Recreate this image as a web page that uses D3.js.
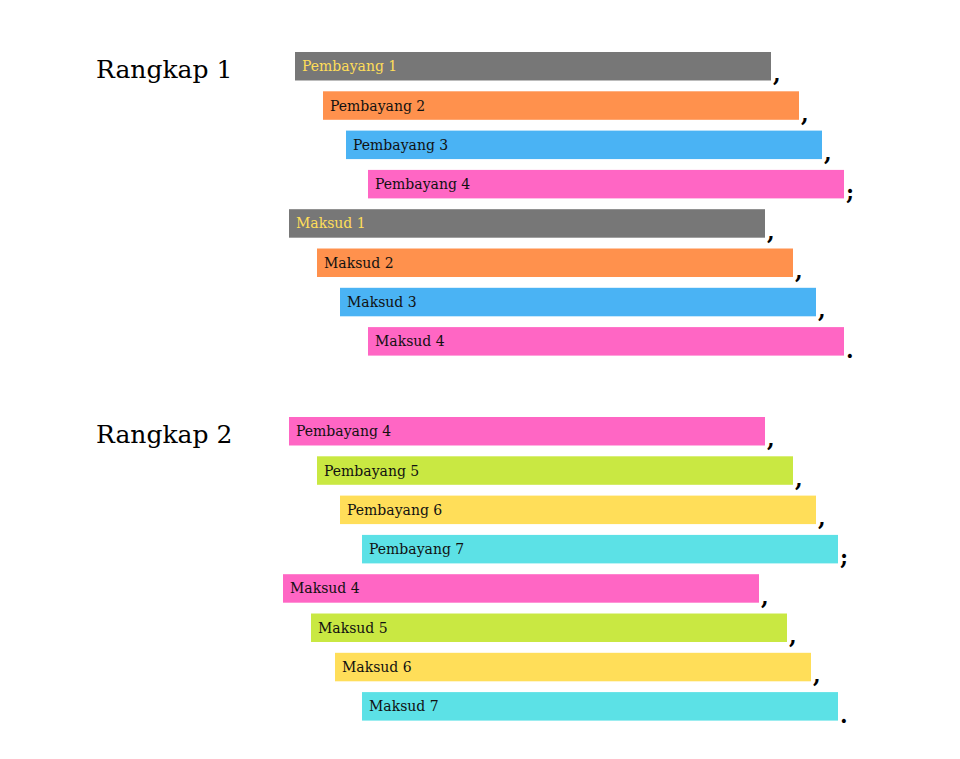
<!DOCTYPE html>
<html><head><meta charset="utf-8">
<script src="https://cdn.jsdelivr.net/npm/d3@7"></script>
<style>body{margin:0;background:#fff}</style>
</head><body><svg id="chart" width="960" height="759"></svg>
<script>
// stanza structure of a pantun
const stanzas = ['Rangkap 1', 'Rangkap 2']
const labels1 = ['Pembayang 1','Pembayang 2','Pembayang 3','Pembayang 4','Maksud 1','Maksud 2','Maksud 3','Maksud 4']
const labels2 = ['Pembayang 4','Pembayang 5','Pembayang 6','Pembayang 7','Maksud 4','Maksud 5','Maksud 6','Maksud 7']
const starts1 = [12, 40, 63, 85, 6, 34, 57, 85]
const starts2 = [6, 34, 57, 79, 0, 28, 52, 79]
const colors1 = ['#777777','#ff914d','#4ab3f4','#ff66c4','#777777','#ff914d','#4ab3f4','#ff66c4']
const colors2 = ['#ff66c4','#c9e842','#ffde59','#5ce1e6','#ff66c4','#c9e842','#ffde59','#5ce1e6']
const punct = [',', ',', ',', ';', ',', ',', ',', '.']

let svg = d3.select('#chart')
let x = d3.scaleLinear().domain([0, 600]).range([283, 883])
let barLen = 476

let drawStanza = (title, labels, starts, colors, top) => {
    let y = d3.scaleBand().domain(d3.range(8)).range([top, top + 7 * 39.3 + 28.5]).paddingInner(0.275)
    let g = svg.append('g')
    g.append('text').attr('x', 96).attr('y', top + 26)
        .style('font-family', 'DejaVu Serif, serif').style('font-size', '25px')
        .text(title)
    let rows = g.selectAll('g.row').data(labels).enter().append('g')
    rows.append('rect')
        .attr('x', (d, i) => x(starts[i]))
        .attr('y', (d, i) => y(i))
        .attr('width', barLen)
        .attr('height', y.bandwidth())
        .attr('fill', (d, i) => colors[i])
    rows.append('text')
        .attr('x', (d, i) => x(starts[i]) + 7)
        .attr('y', (d, i) => y(i) + y.bandwidth() / 2 + 5)
        .style('font-family', 'DejaVu Serif, serif').style('font-size', '14px')
        .attr('fill', (d, i) => colors[i] === '#777777' ? '#ffde59' : '#111')
        .text(d => d)
    rows.append('text')
        .attr('x', (d, i) => x(starts[i]) + barLen + 2)
        .attr('y', (d, i) => y(i) + y.bandwidth() + 2)
        .style('font-family', 'DejaVu Serif, serif').style('font-size', '22px').style('font-weight', 'bold')
        .text((d, i) => punct[i])
}

drawStanza(stanzas[0], labels1, starts1, colors1, 52)
drawStanza(stanzas[1], labels2, starts2, colors2, 417)
</script></body></html>
